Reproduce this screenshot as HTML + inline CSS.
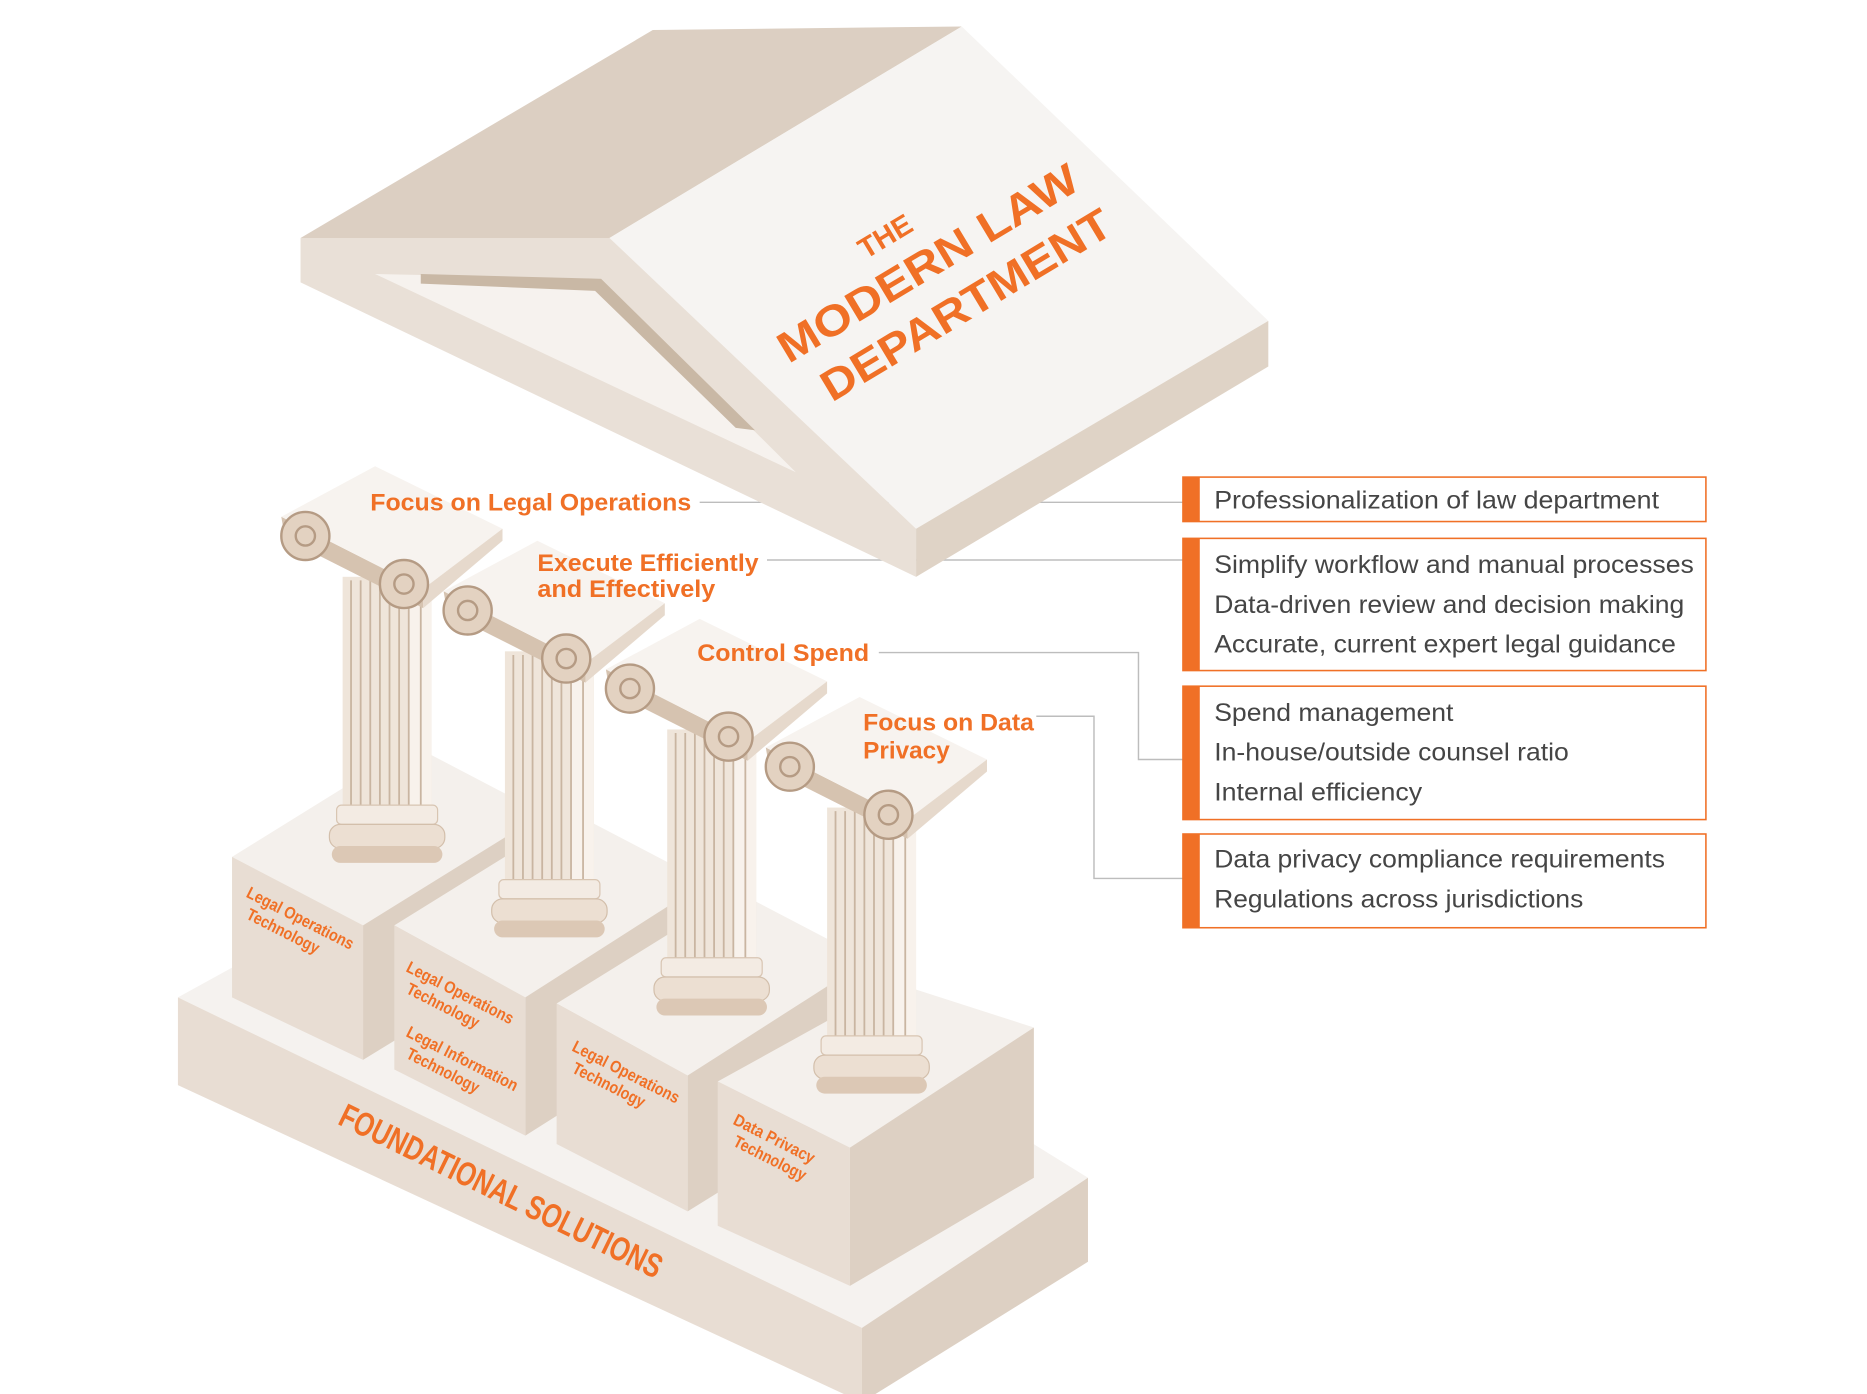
<!DOCTYPE html>
<html><head><meta charset="utf-8"><style>html,body{margin:0;padding:0;background:#fff}svg{display:block}</style></head>
<body>
<svg width="1867" height="1394" viewBox="0 0 1553 1160" preserveAspectRatio="none" xmlns="http://www.w3.org/2000/svg">
<defs>
<g id="col">
  <rect x="-37" y="92" width="74" height="200" fill="#efe5da"/>
  <rect x="18" y="92" width="19" height="200" fill="#f8f2ec"/>
  <g stroke="#c9b5a1" stroke-width="1.5">
    <line x1="-30" y1="95" x2="-30" y2="290"/><line x1="-22" y1="95" x2="-22" y2="290"/>
    <line x1="-14" y1="95" x2="-14" y2="290"/><line x1="-6" y1="95" x2="-6" y2="290"/>
    <line x1="2" y1="95" x2="2" y2="290"/><line x1="10" y1="95" x2="10" y2="290"/>
    <line x1="18" y1="95" x2="18" y2="290"/><line x1="28" y1="95" x2="28" y2="290"/>
  </g>
  <rect x="-42" y="282" width="84" height="16" rx="4" fill="#f3ebe3" stroke="#d8c5b2"/>
  <rect x="-48" y="298" width="96" height="20" rx="9" fill="#ecdfd2" stroke="#d3bfab"/>
  <rect x="-46" y="316" width="92" height="14" rx="7" fill="#dcc8b5"/>
  <polygon points="-88,42 -85,60 30,118 30,102" fill="#d6c3b0"/>
  <polygon points="-88,42 -10,0 96,52 30,102" fill="#f7f3ef"/>
  <polygon points="96,52 96,62 30,118 30,102" fill="#e6d9cc"/>
  <circle cx="-68" cy="58" r="20" fill="#e3d2c1" stroke="#b59b84" stroke-width="2"/>
  <circle cx="-68" cy="58" r="8" fill="none" stroke="#b59b84" stroke-width="2"/>
  <circle cx="14" cy="98" r="20" fill="#e3d2c1" stroke="#b59b84" stroke-width="2"/>
  <circle cx="14" cy="98" r="8" fill="none" stroke="#b59b84" stroke-width="2"/>
</g>
</defs>

<g stroke="#bdbdbd" stroke-width="1.2" fill="none">
  <polyline points="582,418 984,418"/>
  <polyline points="638,466 984,466"/>
  <polyline points="731,543 947,543 947,632 984,632"/>
  <polyline points="862,596 910,596 910,731 984,731"/>
</g>

<polygon points="148,830 420,680 905,980 717,1105" fill="#f5f2ef"/>
<polygon points="148,830 717,1105 717,1167 148,903" fill="#e8ddd3"/>
<polygon points="717,1105 905,980 905,1050 717,1167" fill="#ddd0c3"/>

<g>
  <polygon points="193,713 343,620 452,677 302,770" fill="#f4f0ec"/>
  <polygon points="302,770 452,677 452,790 302,882" fill="#ddd0c3"/>
  <polygon points="193,713 302,770 302,882 193,830" fill="#e8ddd3"/>
  <use href="#col" x="322" y="388"/>
</g>
<g>
  <polygon points="328,770 478,677 587,734 437,830" fill="#f4f0ec"/>
  <polygon points="437,830 587,734 587,850 437,945" fill="#ddd0c3"/>
  <polygon points="328,770 437,830 437,945 328,890" fill="#e8ddd3"/>
  <use href="#col" x="457" y="450"/>
</g>
<g>
  <polygon points="463,835 613,742 722,799 572,895" fill="#f4f0ec"/>
  <polygon points="572,895 722,799 722,915 572,1008" fill="#ddd0c3"/>
  <polygon points="463,835 572,895 572,1008 463,952" fill="#e8ddd3"/>
  <use href="#col" x="592" y="515"/>
</g>
<g>
  <polygon points="597,900 745,818 860,855 707,955" fill="#f4f0ec"/>
  <polygon points="707,955 860,855 860,980 707,1070" fill="#ddd0c3"/>
  <polygon points="597,900 707,955 707,1070 597,1020" fill="#e8ddd3"/>
  <use href="#col" x="725" y="580"/>
</g>

<polygon points="250,198 543,25 800,22 507,198" fill="#dccfc2"/>
<polygon points="507,198 800,22 1055,267 762,440" fill="#f6f4f2"/>
<polygon points="762,440 1055,267 1055,305 762,480" fill="#dfd3c6"/>
<polygon points="250,198 507,198 762,440 762,480 250,235" fill="#e9e0d7"/>
<polygon points="312,228 500,232 662,393" fill="#f6f2ee"/>
<polygon points="350,228 500,232 628,358 612,356 495,242 350,236" fill="#c9b8a5"/>

<g font-family="Liberation Sans, sans-serif" font-weight="bold" fill="#f07026">
  <text x="0" y="0" font-size="24" transform="translate(720,216) rotate(-31)">THE</text>
  <text x="0" y="0" font-size="36" textLength="285" lengthAdjust="spacingAndGlyphs" transform="translate(656,303) rotate(-31)">MODERN LAW</text>
  <text x="0" y="0" font-size="36" textLength="275" lengthAdjust="spacingAndGlyphs" transform="translate(692,335) rotate(-31)">DEPARTMENT</text>
</g>

<g font-family="Liberation Sans, sans-serif" font-weight="bold" fill="#f07026" font-size="20">
  <text x="308" y="425" textLength="267" lengthAdjust="spacingAndGlyphs">Focus on Legal Operations</text>
  <text x="447" y="475" textLength="184" lengthAdjust="spacingAndGlyphs">Execute Efficiently</text>
  <text x="447" y="497" textLength="148" lengthAdjust="spacingAndGlyphs">and Effectively</text>
  <text x="580" y="550" textLength="143" lengthAdjust="spacingAndGlyphs">Control Spend</text>
  <text x="718" y="608" textLength="142" lengthAdjust="spacingAndGlyphs">Focus on Data</text>
  <text x="718" y="631" textLength="72" lengthAdjust="spacingAndGlyphs">Privacy</text>
</g>

<g font-family="Liberation Sans, sans-serif" font-weight="bold" fill="#f07026" font-size="14">
  <text transform="translate(204,746) rotate(27)" textLength="98" lengthAdjust="spacingAndGlyphs">Legal Operations</text>
  <text transform="translate(204,764) rotate(27)" textLength="66" lengthAdjust="spacingAndGlyphs">Technology</text>
  <text transform="translate(337,808) rotate(27)" textLength="98" lengthAdjust="spacingAndGlyphs">Legal Operations</text>
  <text transform="translate(337,826) rotate(27)" textLength="66" lengthAdjust="spacingAndGlyphs">Technology</text>
  <text transform="translate(337,862) rotate(27)" textLength="102" lengthAdjust="spacingAndGlyphs">Legal Information</text>
  <text transform="translate(337,880) rotate(27)" textLength="66" lengthAdjust="spacingAndGlyphs">Technology</text>
  <text transform="translate(475,874) rotate(27)" textLength="98" lengthAdjust="spacingAndGlyphs">Legal Operations</text>
  <text transform="translate(475,892) rotate(27)" textLength="66" lengthAdjust="spacingAndGlyphs">Technology</text>
  <text transform="translate(609,935) rotate(27)" textLength="74" lengthAdjust="spacingAndGlyphs">Data Privacy</text>
  <text transform="translate(609,953) rotate(27)" textLength="66" lengthAdjust="spacingAndGlyphs">Technology</text>
  <text font-size="28" textLength="295" lengthAdjust="spacingAndGlyphs" transform="translate(280,935) rotate(26)">FOUNDATIONAL SOLUTIONS</text>
</g>

<g fill="#fff" stroke="#f07026" stroke-width="1.3">
  <rect x="984" y="397" width="435" height="37"/>
  <rect x="984" y="448" width="435" height="110"/>
  <rect x="984" y="571" width="435" height="111"/>
  <rect x="984" y="694" width="435" height="78"/>
</g>
<g fill="#f07026">
  <rect x="984" y="397" width="14" height="37"/>
  <rect x="984" y="448" width="14" height="110"/>
  <rect x="984" y="571" width="14" height="111"/>
  <rect x="984" y="694" width="14" height="78"/>
</g>
<g font-family="Liberation Sans, sans-serif" fill="#454545" font-size="21">
  <text x="1010" y="423" textLength="370" lengthAdjust="spacingAndGlyphs">Professionalization of law department</text>
  <text x="1010" y="477" textLength="399" lengthAdjust="spacingAndGlyphs">Simplify workflow and manual processes</text>
  <text x="1010" y="510" textLength="391" lengthAdjust="spacingAndGlyphs">Data-driven review and decision making</text>
  <text x="1010" y="543" textLength="384" lengthAdjust="spacingAndGlyphs">Accurate, current expert legal guidance</text>
  <text x="1010" y="600" textLength="199" lengthAdjust="spacingAndGlyphs">Spend management</text>
  <text x="1010" y="633" textLength="295" lengthAdjust="spacingAndGlyphs">In-house/outside counsel ratio</text>
  <text x="1010" y="666" textLength="173" lengthAdjust="spacingAndGlyphs">Internal efficiency</text>
  <text x="1010" y="722" textLength="375" lengthAdjust="spacingAndGlyphs">Data privacy compliance requirements</text>
  <text x="1010" y="755" textLength="307" lengthAdjust="spacingAndGlyphs">Regulations across jurisdictions</text>
</g>
</svg>
</body></html>
